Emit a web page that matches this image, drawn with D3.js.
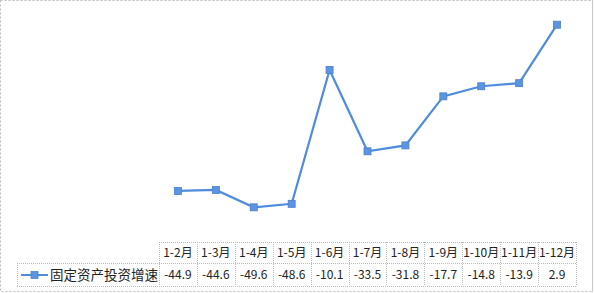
<!DOCTYPE html>
<html>
<head>
<meta charset="utf-8">
<script src="https://cdn.jsdelivr.net/npm/d3@7"></script>
<style>
  body { margin: 0; background: #fff; }
  text { font-family: "Noto Sans CJK SC", "Noto Sans", sans-serif; fill: #222; }
</style>
</head>
<body>
<svg width="594" height="293"></svg>
<script>
// month ranges shown in the data table
const months = ["1-2月", "1-3月", "1-4月", "1-5月", "1-6月", "1-7月", "1-8月", "1-9月", "1-10月", "1-11月", "1-12月"];
// growth of fixed asset investment (%)
const growth = [-44.9, -44.6, -49.6, -48.6, -10.1, -33.5, -31.8, -17.7, -14.8, -13.9, 2.9];
const seriesName = "固定资产投资增速";

const svg = d3.select("svg");
const W = 594, H = 293;
const blue = "#4f8ddc";

// outer frame, dotted like the original
svg.append("rect")
   .attr("x", 0.5).attr("y", 0.5)
   .attr("width", W - 2).attr("height", H - 2)
   .attr("fill", "none")
   .attr("stroke", "#bbb")
   .attr("stroke-dasharray", "2,2");
// right edge is a plain line in the original
svg.append("line")
   .attr("x1", W - 1.5).attr("x2", W - 1.5)
   .attr("y1", 0).attr("y2", H - 1)
   .attr("stroke", "#c8c8c8");

// table columns line up with the category band
const tableLeft = 159, tableRight = 576;
const x = d3.scaleBand()
   .domain(months)
   .range([tableLeft, tableRight]);

const y = d3.scaleLinear()
   .domain([-60, 10])
   .range([243.5, 0]);

const rowTop = 242, rowMid = 263, rowBot = 286, legendLeft = 17;

// table grid
const grid = svg.append("g")
   .attr("fill", "none")
   .attr("stroke", "#bbb")
   .attr("stroke-dasharray", "1,1");

grid.append("line").attr("x1", tableLeft).attr("x2", tableRight).attr("y1", rowTop + 0.5).attr("y2", rowTop + 0.5);
grid.append("line").attr("x1", legendLeft).attr("x2", tableRight).attr("y1", rowMid + 0.5).attr("y2", rowMid + 0.5);
grid.append("line").attr("x1", legendLeft).attr("x2", tableRight).attr("y1", rowBot + 0.5).attr("y2", rowBot + 0.5);
grid.append("line").attr("x1", legendLeft + 0.5).attr("x2", legendLeft + 0.5).attr("y1", rowMid).attr("y2", rowBot);

const edges = months.map(m => x(m)).concat([tableRight]);
grid.selectAll(".vline")
   .data(edges)
   .enter().append("line")
   .attr("x1", d => Math.round(d) + 0.5)
   .attr("x2", d => Math.round(d) + 0.5)
   .attr("y1", rowTop)
   .attr("y2", rowBot);

// header row
svg.selectAll(".cat")
   .data(months)
   .enter().append("text")
   .attr("x", d => x(d) + x.bandwidth() / 2)
   .attr("y", (rowTop + rowMid) / 2 + 4.5)
   .attr("text-anchor", "middle")
   .attr("font-size", 12)
   .text(d => d);

// value row
svg.selectAll(".val")
   .data(growth)
   .enter().append("text")
   .attr("x", (d, i) => x(months[i]) + x.bandwidth() / 2)
   .attr("y", (rowMid + rowBot) / 2 + 4.5)
   .attr("text-anchor", "middle")
   .attr("font-size", 12)
   .text(d => d.toFixed(1));

// legend key inside the table
const ly = (rowMid + rowBot) / 2 + 0.5;
svg.append("line")
   .attr("x1", 21).attr("x2", 48)
   .attr("y1", ly).attr("y2", ly)
   .attr("stroke", blue).attr("stroke-width", 2);
svg.append("rect")
   .attr("x", 31).attr("y", ly - 3.5)
   .attr("width", 7).attr("height", 7)
   .attr("fill", "#5b95e2").attr("stroke", "#4a7fcc").attr("stroke-width", 0.8);
svg.append("text")
   .attr("x", 50)
   .attr("y", ly + 4.8)
   .attr("font-size", 13.5)
   .text(seriesName);

// the line
const line = d3.line()
   .x((d, i) => x(months[i]) + x.bandwidth() / 2)
   .y(d => y(d));

svg.append("path")
   .datum(growth)
   .attr("fill", "none")
   .attr("stroke", blue)
   .attr("stroke-width", 2.2)
   .attr("d", line);

// square markers
svg.selectAll(".pt")
   .data(growth)
   .enter().append("rect")
   .attr("x", (d, i) => x(months[i]) + x.bandwidth() / 2 - 3.5)
   .attr("y", d => y(d) - 3.5)
   .attr("width", 7)
   .attr("height", 7)
   .attr("fill", "#5b95e2")
   .attr("stroke", "#4a7fcc")
   .attr("stroke-width", 0.8);
</script>
</body>
</html>
